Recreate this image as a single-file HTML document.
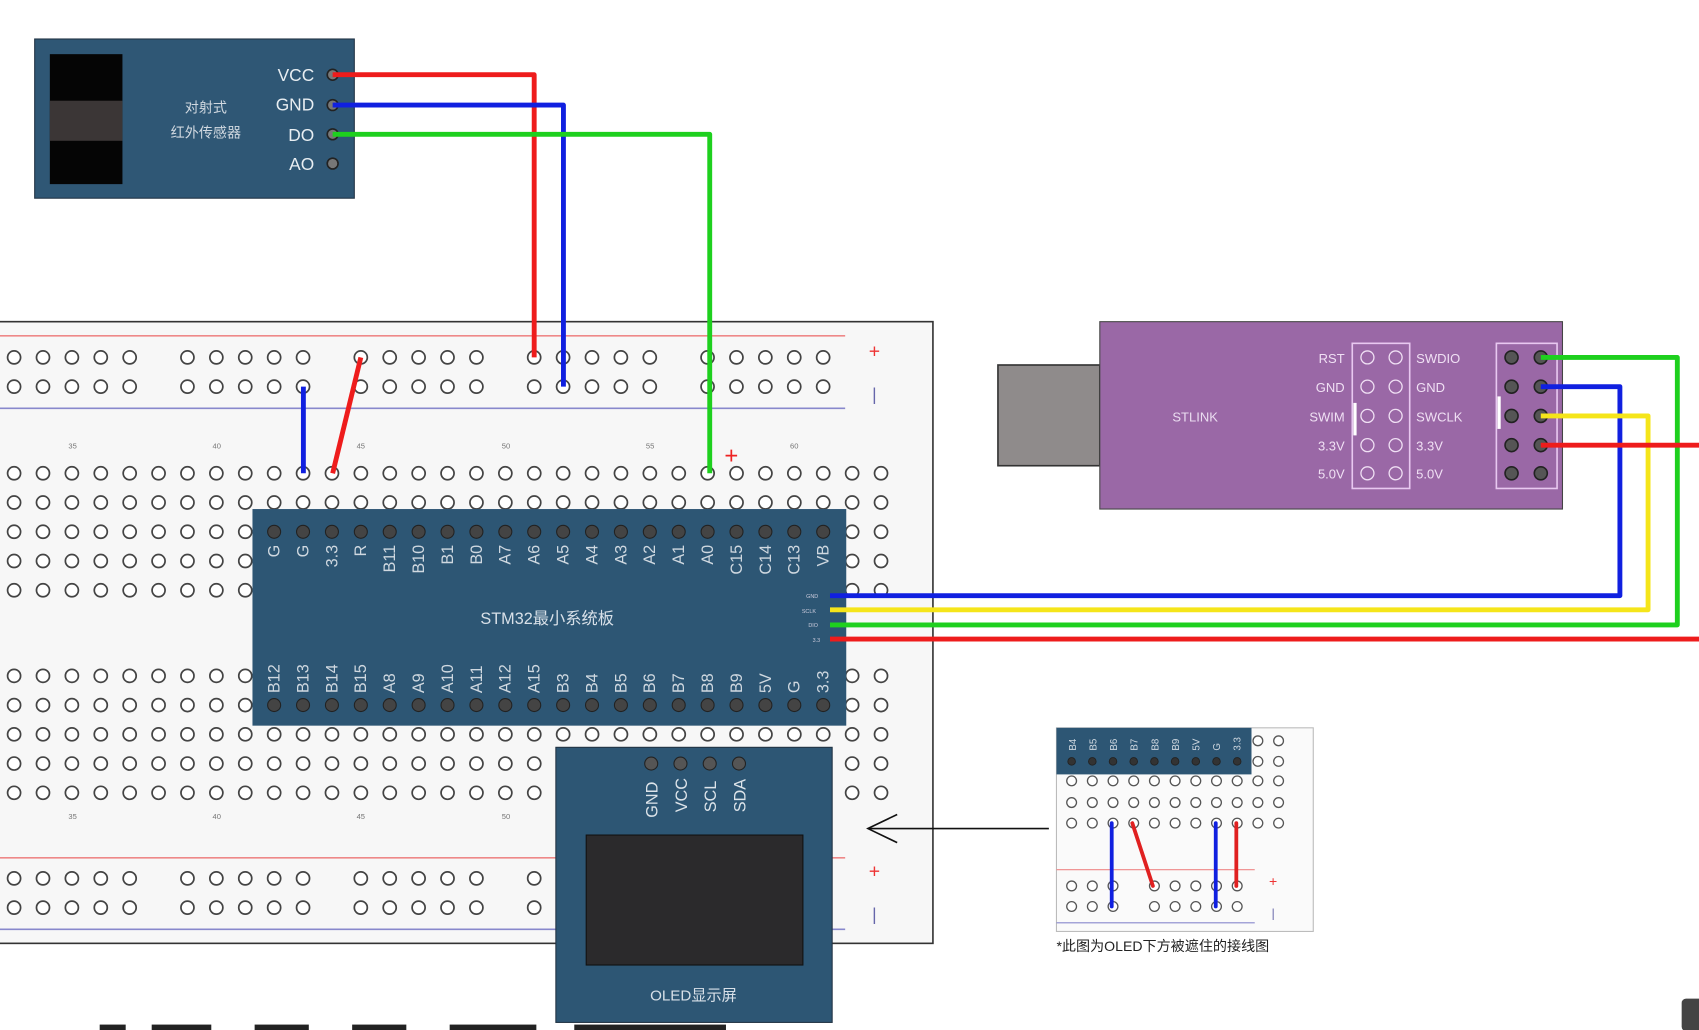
<!DOCTYPE html>
<html><head><meta charset="utf-8"><style>
html,body{margin:0;padding:0;background:#fff;overflow:hidden}
svg{display:block}
text{font-family:"Liberation Sans","Noto Sans CJK SC",sans-serif}
</style></head><body>
<svg id="s" width="1699" height="1030" viewBox="0 0 1568 951" preserveAspectRatio="none" xmlns="http://www.w3.org/2000/svg">
<rect x="0" y="0" width="1568" height="951" fill="#fff"/>
<!-- breadboard -->
<rect x="-2" y="297" width="863" height="574" fill="#f7f7f7" stroke="#333" stroke-width="1.5"/>
<line x1="0" y1="310" x2="780" y2="310" stroke="#e88" stroke-width="1.5"/>
<line x1="0" y1="377" x2="780" y2="377" stroke="#88c" stroke-width="1.5"/>
<line x1="0" y1="792" x2="780" y2="792" stroke="#e88" stroke-width="1.5"/>
<line x1="0" y1="858" x2="780" y2="858" stroke="#88c" stroke-width="1.5"/>
<text x="807" y="330" fill="#e33" font-size="18" text-anchor="middle">+</text>
<text x="807" y="370" fill="#66a" font-size="16" text-anchor="middle">|</text>
<text x="807" y="810" fill="#e33" font-size="18" text-anchor="middle">+</text>
<text x="807" y="850" fill="#66a" font-size="16" text-anchor="middle">|</text>
<g id="holes"></g>
<g font-size="7" fill="#777" text-anchor="middle">
<text x="67" y="414">35</text><text x="200" y="414">40</text><text x="333" y="414">45</text><text x="467" y="414">50</text><text x="600" y="414">55</text><text x="733" y="414">60</text>
<text x="67" y="756">35</text><text x="200" y="756">40</text><text x="333" y="756">45</text><text x="467" y="756">50</text>
</g>
<!-- STM32 -->
<rect x="233" y="470" width="548" height="200" fill="#2d5674"/>
<g id="stmpins"></g>
<g fill="#cfd8e0" font-size="15" id="stmlabels"></g>
<text x="505" y="576" fill="#d8e0e8" font-size="15" text-anchor="middle">STM32最小系统板</text>
<g fill="#ccd" font-size="5"><text x="744" y="552">GND</text><text x="740" y="566">SCLK</text><text x="746" y="579">DIO</text><text x="750" y="593">3.3</text></g>
<!-- sensor -->
<rect x="32" y="36" width="295" height="147" fill="#2f5775" stroke="#234" stroke-width="1"/>
<rect x="46" y="50" width="67" height="120" fill="#050505"/>
<rect x="46" y="93" width="67" height="37" fill="#3b3636"/>
<text x="190" y="104" fill="#d0d8e0" font-size="13" text-anchor="middle">对射式</text>
<text x="190" y="127" fill="#d0d8e0" font-size="13" text-anchor="middle">红外传感器</text>
<g fill="#e8eef2" font-size="16" text-anchor="end">
<text x="290" y="75">VCC</text><text x="290" y="102">GND</text><text x="290" y="130">DO</text><text x="290" y="157">AO</text></g>
<g stroke="#222" stroke-width="1.5" fill="#777"><circle cx="307" cy="69" r="5"/><circle cx="307" cy="97" r="5"/><circle cx="307" cy="124" r="5"/><circle cx="307" cy="151" r="5"/></g>
<!-- STLINK -->
<rect x="921" y="337" width="94" height="93" fill="#8f8b8b" stroke="#333" stroke-width="1.5"/>
<rect x="1015" y="297" width="427" height="173" fill="#9a68a6" stroke="#444" stroke-width="1"/>
<text x="1103" y="389" fill="#eadcf0" font-size="12" text-anchor="middle">STLINK</text>
<g fill="#f0e0f4" font-size="12" text-anchor="end"><text x="1241" y="335">RST</text><text x="1241" y="362">GND</text><text x="1241" y="389">SWIM</text><text x="1241" y="416">3.3V</text><text x="1241" y="442">5.0V</text></g>
<g fill="#f0e0f4" font-size="12"><text x="1307" y="335">SWDIO</text><text x="1307" y="362">GND</text><text x="1307" y="389">SWCLK</text><text x="1307" y="416">3.3V</text><text x="1307" y="442">5.0V</text></g>
<rect x="1248" y="317" width="53" height="134" fill="none" stroke="#e8c8f0" stroke-width="1.5"/>
<rect x="1381" y="317" width="56" height="134" fill="none" stroke="#e8c8f0" stroke-width="1.5"/>
<rect x="1249" y="372" width="3" height="30" fill="#fff"/><rect x="1382" y="366" width="3" height="30" fill="#fff"/>
<g fill="none" stroke="#f0e0f4" stroke-width="1.2">
<circle cx="1262" cy="330" r="6"/><circle cx="1288" cy="330" r="6"/><circle cx="1262" cy="357" r="6"/><circle cx="1288" cy="357" r="6"/><circle cx="1262" cy="384" r="6"/><circle cx="1288" cy="384" r="6"/><circle cx="1262" cy="411" r="6"/><circle cx="1288" cy="411" r="6"/><circle cx="1262" cy="437" r="6"/><circle cx="1288" cy="437" r="6"/></g>
<g fill="#555" stroke="#222" stroke-width="1.5">
<circle cx="1395" cy="330" r="6"/><circle cx="1422" cy="330" r="6"/><circle cx="1395" cy="357" r="6"/><circle cx="1422" cy="357" r="6"/><circle cx="1395" cy="384" r="6"/><circle cx="1422" cy="384" r="6"/><circle cx="1395" cy="411" r="6"/><circle cx="1422" cy="411" r="6"/><circle cx="1395" cy="437" r="6"/><circle cx="1422" cy="437" r="6"/></g>
<!-- OLED -->
<rect x="513" y="690" width="255" height="254" fill="#2d5674" stroke="#234" stroke-width="1"/>
<rect x="541" y="771" width="200" height="120" fill="#2b2a2c" stroke="#111"/>
<g fill="#555" stroke="#222" stroke-width="1"><circle cx="601" cy="705" r="6"/><circle cx="628" cy="705" r="6"/><circle cx="655" cy="705" r="6"/><circle cx="682" cy="705" r="6"/></g>
<g fill="#dde4ea" font-size="15">
<text transform="translate(607,755) rotate(-90)">GND</text><text transform="translate(634,750) rotate(-90)">VCC</text><text transform="translate(661,750) rotate(-90)">SCL</text><text transform="translate(688,750) rotate(-90)">SDA</text></g>
<text x="640" y="924" fill="#d8e0e8" font-size="14" text-anchor="middle">OLED显示屏</text>
<!-- arrow -->
<line x1="968" y1="765" x2="801" y2="765" stroke="#111" stroke-width="1.5"/>
<polyline points="828,752 801,765 828,778" fill="none" stroke="#111" stroke-width="1.5"/>
<!-- inset -->
<rect x="975" y="672" width="237" height="188" fill="#fafafa" stroke="#bbb" stroke-width="1"/>
<line x1="975" y1="803" x2="1158" y2="803" stroke="#e88"/>
<line x1="975" y1="852" x2="1158" y2="852" stroke="#88c"/>
<text x="1175" y="818" fill="#e33" font-size="13" text-anchor="middle">+</text>
<text x="1175" y="847" fill="#66a" font-size="11" text-anchor="middle">|</text>
<g id="inset"></g>
<rect x="975" y="672" width="180" height="43" fill="#2d5674"/>
<g id="insetpins"></g>
<g fill="#cfd8e0" font-size="9">
<text transform="translate(993,693) rotate(-90)">B4</text><text transform="translate(1012,693) rotate(-90)">B5</text><text transform="translate(1031,693) rotate(-90)">B6</text><text transform="translate(1050,693) rotate(-90)">B7</text><text transform="translate(1069,693) rotate(-90)">B8</text><text transform="translate(1088,693) rotate(-90)">B9</text><text transform="translate(1107,693) rotate(-90)">5V</text><text transform="translate(1126,693) rotate(-90)">G</text><text transform="translate(1145,693) rotate(-90)">3.3</text></g>
<text x="975" y="878" fill="#222" font-size="13">*此图为OLED下方被遮住的接线图</text>
<g stroke-width="3.5" stroke-linecap="round">
<line x1="1026" y1="760" x2="1026" y2="837" stroke="#1020e0"/>
<line x1="1045" y1="760" x2="1064" y2="818" stroke="#e02020"/>
<line x1="1122" y1="760" x2="1122" y2="837" stroke="#1020e0"/>
<line x1="1141" y1="760" x2="1141" y2="818" stroke="#e02020"/>
</g>
<!-- wires -->
<g fill="none" stroke-width="4.5" stroke-linejoin="round">
<polyline points="307,69 493,69 493,330" stroke="#ee1c1c"/>
<polyline points="307,97 520,97 520,357" stroke="#1020e0"/>
<polyline points="307,124 655,124 655,437" stroke="#1ed01e"/>
<line x1="280" y1="357" x2="280" y2="437" stroke="#1020e0"/>
<line x1="333" y1="330" x2="307" y2="437" stroke="#ee1c1c"/>
<polyline points="1422,330 1548,330 1548,577 766,577" stroke="#1ed01e"/>
<polyline points="1422,357 1495,357 1495,550 766,550" stroke="#1020e0"/>
<polyline points="1422,384 1521,384 1521,563 766,563" stroke="#f5e51a"/>
<line x1="1422" y1="411" x2="1568" y2="411" stroke="#ee1c1c"/>
<line x1="766" y1="590" x2="1568" y2="590" stroke="#ee1c1c"/>
</g>
<text x="675" y="428" fill="#e22" font-size="22" text-anchor="middle">+</text>
<rect x="1552" y="922" width="20" height="30" rx="4" fill="#444"/>
<g fill="#222"><rect x="92" y="946" width="24" height="5"/><rect x="140" y="946" width="55" height="5"/><rect x="235" y="946" width="50" height="5"/><rect x="325" y="946" width="50" height="5"/><rect x="415" y="946" width="80" height="5"/><rect x="530" y="946" width="140" height="5"/></g>
</svg>
<script>
var NS="http://www.w3.org/2000/svg";
function c(g,x,y,r,f,s,w){var e=document.createElementNS(NS,"circle");e.setAttribute("cx",x);e.setAttribute("cy",y);e.setAttribute("r",r);e.setAttribute("fill",f);e.setAttribute("stroke",s);e.setAttribute("stroke-width",w);g.appendChild(e);}
var h=document.getElementById("holes");
var groups=[13,173,333,493,653];
[330,357,811,838].forEach(function(y){groups.forEach(function(g0){for(var i=0;i<5;i++){c(h,g0+i*26.67,y,6,"#fff","#444",1.6);}});});
[437,464,491,518,545,624,651,678,705,732].forEach(function(y){for(var i=0;i<31;i++){c(h,13+i*26.67,y,6,"#fff","#444",1.6);}});
var sp=document.getElementById("stmpins");
for(var i=0;i<20;i++){c(sp,253+i*26.67,491,6,"#444","#222",1);c(sp,253+i*26.67,651,6,"#444","#222",1);}
var topLabels=["G","G","3.3","R","B11","B10","B1","B0","A7","A6","A5","A4","A3","A2","A1","A0","C15","C14","C13","VB"];
var botLabels=["B12","B13","B14","B15","A8","A9","A10","A11","A12","A15","B3","B4","B5","B6","B7","B8","B9","5V","G","3.3"];
var L=document.getElementById("stmlabels");
for(var i=0;i<20;i++){var x=258+i*26.67;
var t=document.createElementNS(NS,"text");t.setAttribute("transform","translate("+x+",503) rotate(-90)");t.setAttribute("text-anchor","end");t.textContent=topLabels[i];L.appendChild(t);
var b=document.createElementNS(NS,"text");b.setAttribute("transform","translate("+x+",640) rotate(-90)");b.textContent=botLabels[i];L.appendChild(b);}
var ins=document.getElementById("inset");
[684,703,721,741,760].forEach(function(y){for(var i=0;i<11;i++){c(ins,989+i*19.1,y,4.5,"#fff","#555",1.2);}});
[818,837].forEach(function(y){[0,1,2,4,5,6,7,8].forEach(function(i){c(ins,989+i*19.1,y,4.5,"#fff","#555",1.2);});});
var ip=document.getElementById("insetpins");
for(var i=0;i<9;i++){c(ip,989+i*19.1,703,3.5,"#333","#222",0.8);}
</script>
</body></html>
